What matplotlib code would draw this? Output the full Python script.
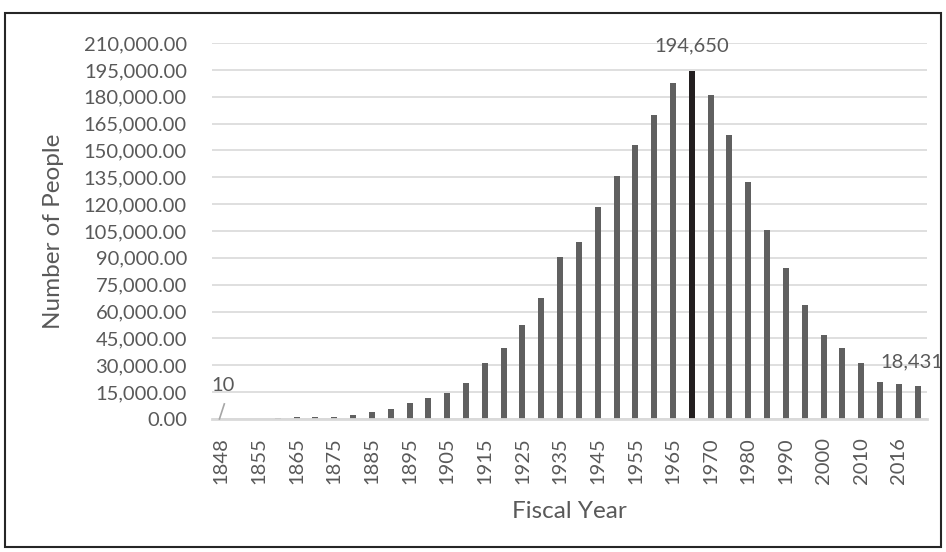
import matplotlib.pyplot as plt
from matplotlib.patches import Rectangle
from matplotlib.ticker import FuncFormatter, MultipleLocator

years = ["1848", "1850", "1855", "1860", "1865", "1870", "1875", "1880", "1885",
         "1890", "1895", "1900", "1905", "1910", "1915", "1920", "1925", "1930",
         "1935", "1940", "1945", "1950", "1955", "1960", "1965", "1968", "1970",
         "1975", "1980", "1985", "1990", "1995", "2000", "2005", "2010", "2013",
         "2016", "2018"]
people = [10, 80, 150, 300, 1000, 1100, 1300, 2400, 3900,
          5500, 8700, 11900, 14700, 20300, 31300, 39800, 52300, 67700,
          90400, 98800, 118300, 135800, 153100, 170000, 187500, 194650, 181100,
          158700, 132400, 105400, 84600, 63650, 47050, 39850, 31180, 20650,
          19350, 18431]

text_col = "#595959"
grid_col = "#d9d9d9"
plt.rcParams["font.family"] = ["Lato", "DejaVu Sans"]

fig = plt.figure(figsize=(9.46, 5.52), dpi=100)
ax = fig.add_axes([0.224, 0.241, 0.756, 0.681])

peak = people.index(max(people))
colors = ["#231f20" if i == peak else "#606060" for i in range(len(people))]
x = list(range(len(years)))
ax.bar(x, people, width=0.32, color=colors, zorder=3)

ax.set_xlim(-0.5, len(years) - 0.5)
ax.set_ylim(0, 210000)
ax.yaxis.set_major_locator(MultipleLocator(15000))
ax.yaxis.set_major_formatter(FuncFormatter(lambda v, p: f"{v:,.2f}"))
ax.grid(axis="y", color=grid_col, linewidth=1.2, zorder=0)

ax.set_xticks(x[::2])
ax.set_xticklabels(years[::2], rotation=90)
ax.tick_params(axis="both", length=0, labelsize=14.5, colors=text_col)
ax.tick_params(axis="y", pad=18)
ax.tick_params(axis="x", pad=13)

for side in ["top", "right", "left"]:
    ax.spines[side].set_visible(False)
ax.spines["bottom"].set_color(grid_col)
ax.spines["bottom"].set_linewidth(2)
ax.spines["bottom"].set_zorder(4)

ax.set_xlabel("Fiscal Year", fontsize=17.5, color=text_col, labelpad=12)
ax.set_ylabel("Number of People", fontsize=17.5, color=text_col, labelpad=14)

# value labels: peak, last year, first year (with leader line)
ax.annotate(f"{people[peak]:,}", (peak, people[peak]), xytext=(0, 25),
            textcoords="offset pixels", ha="center", va="center",
            fontsize=14.5, color=text_col, zorder=5)
last = len(people) - 1
ax.annotate(f"{people[last]:,}", (last, people[last]), xytext=(-6, 24),
            textcoords="offset pixels", ha="center", va="center",
            fontsize=14.5, color=text_col, zorder=5)
ax.annotate(f"{people[0]:,}", (0, people[0]), xytext=(2, 33),
            textcoords="offset pixels", ha="center", va="center",
            fontsize=14.5, color=text_col, zorder=5)
ax.plot([-0.1, 0.16], [people[0], 8400], color="#a6a6a6", lw=1.2,
        zorder=5, clip_on=False)

fig.patches.append(Rectangle((5 / 946, 5 / 552), 936 / 946, 534 / 552,
                             transform=fig.transFigure, fill=False,
                             edgecolor="#262626", linewidth=1.5))

fig.savefig("out.png", dpi=100)
